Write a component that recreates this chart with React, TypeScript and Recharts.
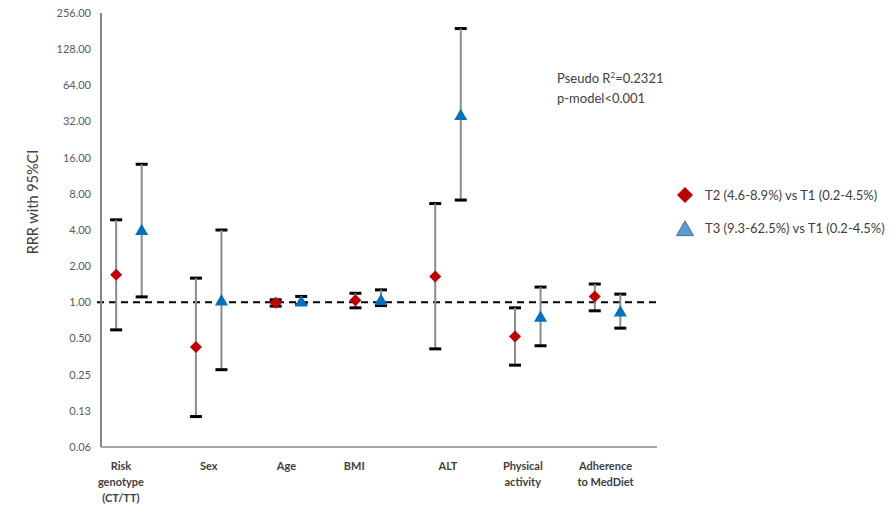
import React from 'react'
import { ScatterChart, Scatter, XAxis, YAxis, ErrorBar, ReferenceLine, Legend } from 'recharts'

// category labels (one entry per line)
const categories = [
  ['Risk', 'genotype', '(CT/TT)'],
  ['Sex'],
  ['Age'],
  ['BMI'],
  ['ALT'],
  ['Physical', 'activity'],
  ['Adherence', 'to MedDiet'],
]

// T2 (4.6-8.9%) vs T1
const t2Rrr = [1.7, 0.425, 0.99, 1.04, 1.64, 0.52, 1.12]
const t2Lower = [0.59, 0.112, 0.93, 0.9, 0.41, 0.3, 0.85]
const t2Upper = [4.86, 1.59, 1.05, 1.19, 6.64, 0.9, 1.42]

// T3 (9.3-62.5%) vs T1
const t3Rrr = [4.0, 1.04, 1.02, 1.05, 36.3, 0.76, 0.84]
const t3Lower = [1.11, 0.275, 0.96, 0.94, 7.1, 0.435, 0.61]
const t3Upper = [14.1, 4.0, 1.12, 1.27, 190, 1.34, 1.17]

const yTicks = [0.0625, 0.125, 0.25, 0.5, 1, 2, 4, 8, 16, 32, 64, 128, 256]
const seriesNames = ['T2 (4.6-8.9%) vs T1 (0.2-4.5%)', 'T3 (9.3-62.5%) vs T1 (0.2-4.5%)']

// small horizontal nudges for the category text boxes
const labelShift = [-8, 0, -2, -14, 0, -5, -2]

const pairOffset = 0.16
const FONT = 'Lato, "Open Sans", sans-serif'

const toPoints = (vals: number[], lo: number[], hi: number[], shift: number) =>
  vals.map((v, i) => ({ x: i + 1 + shift, y: v, err: [v - lo[i], hi[i] - v] }))

const t2Data = toPoints(t2Rrr, t2Lower, t2Upper, -pairOffset)
const t3Data = toPoints(t3Rrr, t3Lower, t3Upper, pairOffset)

const Diamond = ({ cx, cy, r = 6, fill }: any) => (
  <polygon points={`${cx},${cy - r} ${cx + r},${cy} ${cx},${cy + r} ${cx - r},${cy}`} fill={fill} />
)

const Triangle = ({ cx, cy, s = 13, fill, stroke }: any) => {
  const h = s * 0.87
  return (
    <polygon
      points={`${cx},${cy - h * 0.55} ${cx + s / 2},${cy + h * 0.45} ${cx - s / 2},${cy + h * 0.45}`}
      fill={fill}
      stroke={stroke || 'none'}
    />
  )
}

const CategoryTick = ({ x, y, payload }: any) => {
  const idx = Math.round(payload.value) - 1
  const lines = categories[idx] || []
  const tx = x + (labelShift[idx] || 0)
  return (
    <text x={tx} y={y} textAnchor="middle" fill="#404040" fontSize={11} fontWeight={700} fontFamily={FONT}>
      {lines.map((l, i) => (
        <tspan key={i} x={tx} dy={i === 0 ? 15 : 16}>
          {l}
        </tspan>
      ))}
    </text>
  )
}

const YTitle = ({ viewBox }: any) => {
  const cx = 32
  const cy = viewBox.y + viewBox.height / 2 - 28
  return (
    <text x={cx} y={cy} transform={`rotate(-90, ${cx}, ${cy})`} textAnchor="middle" dominantBaseline="central" fontSize={14.5} fill="#404040" fontFamily={FONT}>
      RRR with 95%CI
    </text>
  )
}

const LegendBox = () => (
  <div style={{ fontFamily: FONT, fontSize: 13, color: '#404040' }}>
    <div style={{ display: 'flex', alignItems: 'center', height: 22, marginBottom: 11 }}>
      <svg width={22} height={20}>
        <Diamond cx={11} cy={10} r={8} fill="#c00000" />
      </svg>
      <span style={{ marginLeft: 9 }}>{seriesNames[0]}</span>
    </div>
    <div style={{ display: 'flex', alignItems: 'center', height: 22 }}>
      <svg width={22} height={20}>
        <Triangle cx={11} cy={11} s={17} fill="#5b9bd5" stroke="#41719c" />
      </svg>
      <span style={{ marginLeft: 9 }}>{seriesNames[1]}</span>
    </div>
  </div>
)

export default function App() {
  return (
    <div style={{ position: 'absolute', left: 0, top: 0, width: 890, height: 513, background: '#fff', fontFamily: FONT }}>
      <style>{`.recharts-errorBar line:nth-of-type(2){stroke:#8c8c8c;stroke-width:2px}`}</style>
      <ScatterChart width={890} height={513} margin={{ top: 13, right: 233, bottom: 6, left: 0 }}>
        <XAxis
          type="number"
          dataKey="x"
          domain={[0.65, 7.62]}
          ticks={[1, 2, 3, 4, 5, 6, 7]}
          tick={<CategoryTick />}
          tickLine={false}
          height={60}
          axisLine={{ stroke: '#a6a6a6', strokeWidth: 2 }}
          allowDataOverflow
          interval={0}
        />
        <YAxis
          type="number"
          dataKey="y"
          scale="log"
          domain={[0.0625, 256]}
          ticks={yTicks}
          allowDataOverflow
          width={101}
          tickLine={false}
          tickSize={0}
          tickMargin={10}
          tickFormatter={(v: number) => v.toFixed(2)}
          tick={{ fill: '#595959', fontSize: 11, fontFamily: FONT }}
          axisLine={{ stroke: '#868686', strokeWidth: 2 }}
          interval={0}
          label={(props: any) => <YTitle {...props} />}
        />
        <ReferenceLine
          segment={[{ x: 0.6, y: 1 }, { x: 7.67, y: 1 }]}
          ifOverflow="visible"
          stroke="#000"
          strokeWidth={2}
          strokeDasharray="7 5"
        />
        <Scatter name={seriesNames[0]} data={t2Data} isAnimationActive={false} shape={(p: any) => <Diamond cx={p.cx} cy={p.cy} r={6} fill="#c00000" />}>
          <ErrorBar dataKey="err" direction="y" width={6} stroke="#000" strokeWidth={3} isAnimationActive={false} />
        </Scatter>
        <Scatter name={seriesNames[1]} data={t3Data} isAnimationActive={false} shape={(p: any) => <Triangle cx={p.cx} cy={p.cy} s={13} fill="#0070c0" />}>
          <ErrorBar dataKey="err" direction="y" width={6} stroke="#000" strokeWidth={3} isAnimationActive={false} />
        </Scatter>
        <Legend
          layout="vertical"
          align="center"
          verticalAlign="middle"
          content={<LegendBox />}
          wrapperStyle={{ left: 674, top: 184, width: 216 }}
        />
      </ScatterChart>
      <div style={{ position: 'absolute', left: 557, top: 65, fontSize: 13, lineHeight: '20px', color: '#404040' }}>
        <div>
          Pseudo R<sup style={{ fontSize: 8 }}>2</sup>=0.2321
        </div>
        <div>p-model&lt;0.001</div>
      </div>
    </div>
  )
}
